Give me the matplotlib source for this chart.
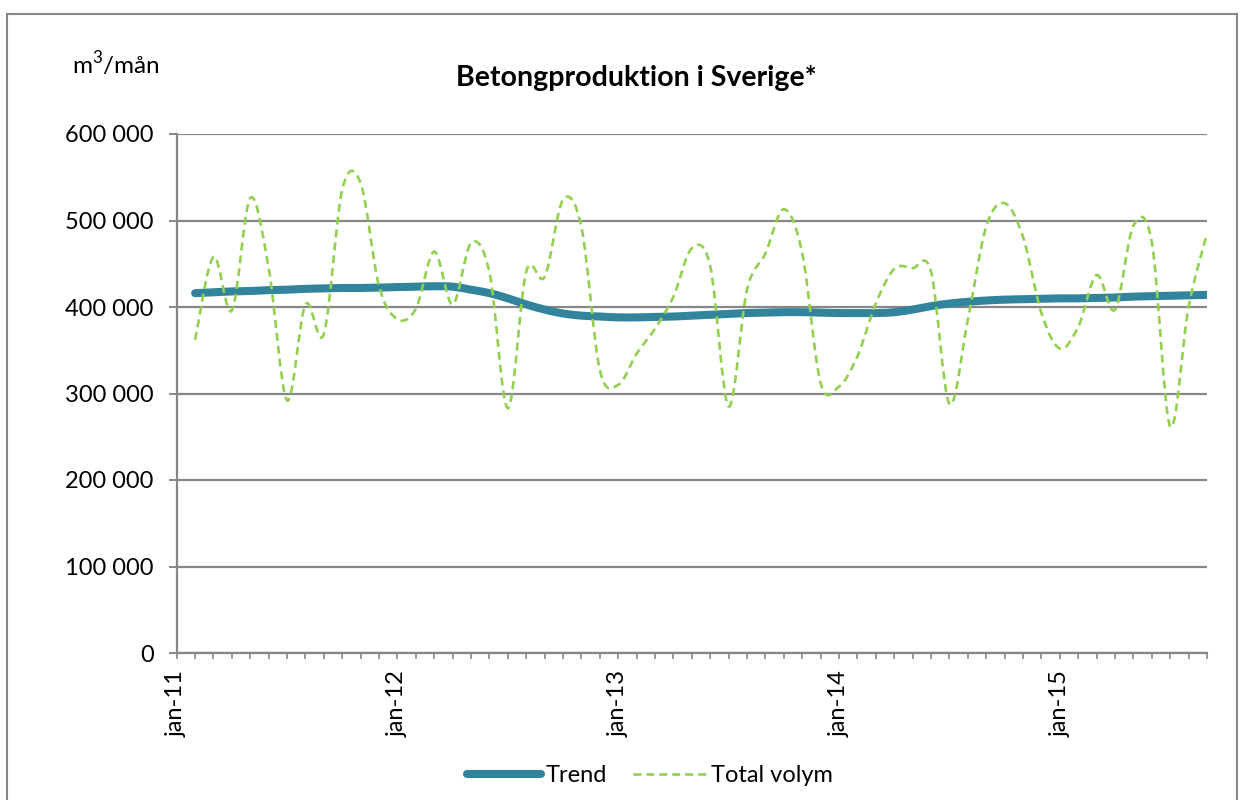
import numpy as np
import matplotlib
matplotlib.use('Agg')
import matplotlib.pyplot as plt
from matplotlib.path import Path
from matplotlib.patches import PathPatch, Rectangle
from matplotlib.lines import Line2D
from matplotlib.ticker import FuncFormatter, MultipleLocator

plt.rcParams['font.family'] = ['Lato', 'DejaVu Sans']
plt.rcParams['mathtext.fontset'] = 'custom'
plt.rcParams['mathtext.rm'] = 'Lato'

# month index on the axis (jan-11 = 0), data starts one month in
months = list(range(1, 57))
tick_pos = [0, 12, 24, 36, 48]
tick_labels = ['jan-11', 'jan-12', 'jan-13', 'jan-14', 'jan-15']

# m3 per month
total_volym = [362000, 458000, 396000, 526000, 445000, 292000, 403000, 369000, 536000, 543000,
               424000, 386000, 398000, 464000, 403000, 474000, 440000, 283000, 441000, 435000,
               524000, 492000, 327000, 310000, 346000, 375000, 412000, 468000, 447000, 285000,
               420000, 462000, 513000, 462000, 312000, 308000, 343000, 404000, 444000, 445000,
               441000, 288000, 385000, 493000, 520000, 481000, 393000, 352000, 377000, 437000,
               397000, 494000, 475000, 262000, 400000, 485000]
trend = [416000, 417000, 418000, 418500, 419500, 420000, 421000, 421500, 422000, 422000,
         422500, 423000, 423500, 424000, 423500, 420000, 416000, 410000, 403000, 397000,
         392500, 390000, 389000, 388000, 388000, 388500, 389000, 390000, 391000, 392000,
         393000, 393500, 394000, 394000, 393500, 393000, 393000, 393000, 394000, 397000,
         401000, 404000, 406000, 407500, 408500, 409000, 409500, 410000, 410000, 410500,
         411000, 412000, 412500, 413000, 413500, 414000]

trend_color = '#31849B'
volym_color = '#92D050'
grid_color = '#878787'


def smooth_path(x, y):
    # excel style smoothed line: cubic bezier through every point
    p = np.column_stack([x, y]).astype(float)
    verts = [p[0]]
    codes = [Path.MOVETO]
    n = len(p)
    for i in range(n - 1):
        p0 = p[i - 1] if i > 0 else p[i]
        p3 = p[i + 2] if i + 2 < n else p[i + 1]
        c1 = p[i] + (p[i + 1] - p0) / 6.0
        c2 = p[i + 1] - (p3 - p[i]) / 6.0
        verts += [c1, c2, p[i + 1]]
        codes += [Path.CURVE4] * 3
    return Path(verts, codes)


fig = plt.figure(figsize=(12.43, 8.0), dpi=100)
ax = fig.add_axes([176.7 / 1243, 1 - 653 / 800, (1207 - 176.7) / 1243, (653 - 134) / 800])

ax.add_patch(PathPatch(smooth_path(months, trend), fill=False, edgecolor=trend_color,
                       lw=5.8, capstyle='round', joinstyle='round', zorder=3))
ax.add_patch(PathPatch(smooth_path(months, total_volym), fill=False, edgecolor=volym_color,
                       lw=1.9, linestyle=(0, (3.0, 1.9)), zorder=4))

ax.set_xlim(0, 56)
ax.set_ylim(0, 600000)
ax.yaxis.set_major_locator(MultipleLocator(100000))
ax.yaxis.set_major_formatter(FuncFormatter(lambda v, p: '{:,.0f}'.format(v).replace(',', ' ')))
ax.set_xticks(tick_pos)
ax.set_xticklabels(tick_labels, rotation=90)
ax.set_xticks(range(0, 57), minor=True)

ax.grid(axis='y', color=grid_color, lw=1.6)
ax.set_axisbelow(True)
for s in ['top', 'right']:
    ax.spines[s].set_visible(False)
for s in ['left', 'bottom']:
    ax.spines[s].set_color(grid_color)
    ax.spines[s].set_linewidth(1.6)

ax.tick_params(axis='y', length=5.5, width=1.4, color=grid_color, labelsize=17, pad=11)
ax.tick_params(axis='x', which='both', length=4.3, width=1.2, color=grid_color, labelsize=17, pad=8)

fig.text(636 / 1243, 1 - 78 / 800, 'Betongproduktion i Sverige*', ha='center', va='center',
         fontsize=20.5, fontweight='bold')
fig.text(72 / 1243, 1 - 64 / 800, 'm$^3$/mån', ha='left', va='center', fontsize=17.5)

handles = [Line2D([], [], color=trend_color, lw=5.8, solid_capstyle='round'),
           Line2D([], [], color=volym_color, lw=1.9, linestyle=(0, (3.0, 1.9)))]
fig.legend(handles, ['Trend', 'Total volym'], loc='center', bbox_to_anchor=(650 / 1243, 1 - 776 / 800),
           ncol=2, frameon=False, fontsize=17, handlelength=3.1, handletextpad=0.2, columnspacing=1.1)

fig.add_artist(Rectangle((7 / 1243, -0.05), (1237 - 7) / 1243, 1.05 - 14 / 800, transform=fig.transFigure,
                         fill=False, edgecolor=grid_color, lw=1.5))

fig.savefig('out.png', dpi=100)
